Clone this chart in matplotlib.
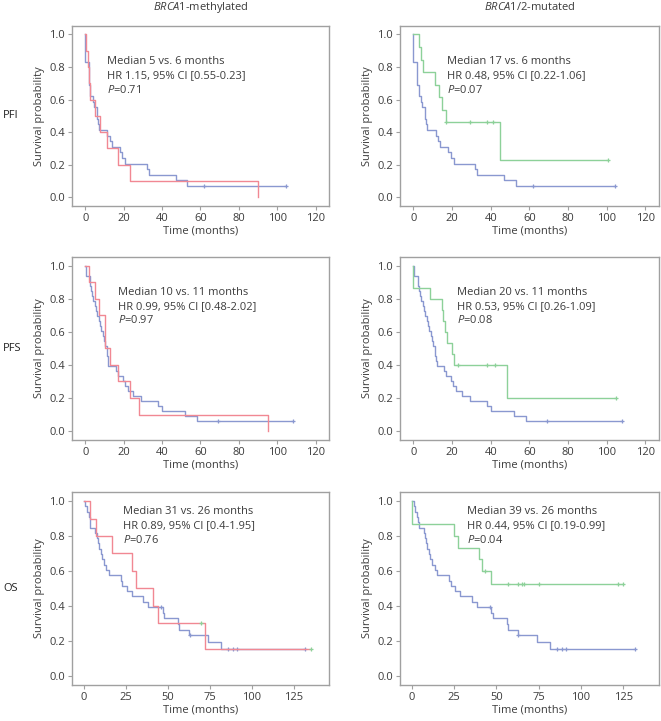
import matplotlib
matplotlib.use('Agg')
import matplotlib.pyplot as plt
import numpy as np

# PFI
pfi_blue_t = [0, 0, 1.7, 2.6, 3.8, 4.6, 6, 6.5, 7.2, 11.5, 12.8, 13.8, 18, 19.3, 20.7, 32, 33, 47, 53, 104.5]
pfi_blue_s = [1.0, 0.828, 0.69, 0.621, 0.586, 0.552, 0.483, 0.448, 0.414, 0.379, 0.345, 0.310, 0.276, 0.241, 0.207, 0.172, 0.138, 0.103, 0.069, 0.069]
pfi_blue_c = [62, 104.5]
pfi_red_t = [0, 0.5, 1.3, 1.8, 2.2, 5, 7.5, 11, 17, 23, 90]
pfi_red_s = [1.0, 0.9, 0.8, 0.7, 0.6, 0.5, 0.4, 0.3, 0.2, 0.1, 0.0]
pfi_red_c = []
pfi_green_t = [0, 3, 4, 5, 11, 13, 15, 17, 44.5, 100.5]
pfi_green_s = [1.0, 0.923, 0.846, 0.769, 0.692, 0.615, 0.538, 0.462, 0.231, 0.231]
pfi_green_c = [17, 29, 38, 41, 100.5]

# PFS
pfs_blue_t = [0, 0.3, 2.4, 3.0, 3.5, 4.0, 5.0, 5.5, 6.0, 7.0, 7.5, 8.0, 9.0, 9.5, 10.0, 11.0, 11.3, 11.6, 12.0,
              16, 17, 19.5, 20.5, 22, 25, 29, 38, 40, 52, 58, 108]
pfs_blue_s = [1.0, 0.939, 0.879, 0.848, 0.818, 0.788, 0.758, 0.727, 0.697, 0.667, 0.636, 0.606, 0.576, 0.545, 0.515, 0.485, 0.455, 0.424, 0.394,
              0.364, 0.333, 0.303, 0.273, 0.242, 0.212, 0.182, 0.152, 0.121, 0.091, 0.061, 0.061]
pfs_blue_c = [69, 108]
pfs_red_t = [0, 2, 5.2, 7.3, 10.4, 13, 17, 23, 28, 95]
pfs_red_s = [1.0, 0.9, 0.8, 0.7, 0.5, 0.4, 0.3, 0.2, 0.1, 0.0]
pfs_red_c = []
pfs_green_t = [0, 0, 8.4, 15, 15.5, 16.5, 17.2, 20, 21, 48.5, 105]
pfs_green_s = [1.0, 0.867, 0.8, 0.733, 0.667, 0.6, 0.533, 0.467, 0.4, 0.2, 0.2]
pfs_green_c = [23, 38, 42, 105]

# OS
os_blue_t = [0, 1, 2, 3, 3.5, 4, 7, 8, 8.5, 9, 10, 11, 12, 13.5, 15, 22, 23, 25.5, 28.5, 35.5, 38.5,
             47, 48, 56, 57, 62.5, 73.7, 81.8, 132]
os_blue_s = [1.0, 0.970, 0.939, 0.909, 0.879, 0.848, 0.818, 0.788, 0.758, 0.727, 0.697, 0.667, 0.636, 0.606, 0.576,
             0.545, 0.515, 0.485, 0.455, 0.424, 0.394, 0.361, 0.328, 0.295, 0.262, 0.230, 0.191, 0.153, 0.153]
os_blue_c = [46, 63, 86, 89, 91, 132]
os_red_t = [0, 4, 7.4, 16.8, 29, 31, 41, 44.5, 72, 135]
os_red_s = [1.0, 0.9, 0.8, 0.7, 0.6, 0.5, 0.4, 0.3, 0.15, 0.15]
os_red_c = [70, 135]
os_green_t = [0, 0, 25, 27.5, 39.6, 41.6, 47, 125]
os_green_s = [1.0, 0.867, 0.8, 0.733, 0.667, 0.6, 0.525, 0.525]
os_green_c = [43, 57, 63, 65, 66, 75, 122, 125]

row_labels = ['PFI', 'PFS', 'OS']
col_titles = [r'$\it{BRCA1}$-methylated', r'$\it{BRCA1/2}$-mutated']

stats = [
    [['Median 5 vs. 6 months', 'HR 1.15, 95% CI [0.55-0.23]', r'$\it{P}$=0.71'],
     ['Median 17 vs. 6 months', 'HR 0.48, 95% CI [0.22-1.06]', r'$\it{P}$=0.07']],
    [['Median 10 vs. 11 months', 'HR 0.99, 95% CI [0.48-2.02]', r'$\it{P}$=0.97'],
     ['Median 20 vs. 11 months', 'HR 0.53, 95% CI [0.26-1.09]', r'$\it{P}$=0.08']],
    [['Median 31 vs. 26 months', 'HR 0.89, 95% CI [0.4-1.95]', r'$\it{P}$=0.76'],
     ['Median 39 vs. 26 months', 'HR 0.44, 95% CI [0.19-0.99]', r'$\it{P}$=0.04']],
]

BLUE = '#8a98d0'
RED = '#f18893'
GREEN = '#8dd199'
GRAY = '#a0a0a0'
TXT = '#3c3c3c'

plt.rcParams['font.family'] = ['Open Sans', 'DejaVu Sans']
plt.rcParams['mathtext.fontset'] = 'custom'
plt.rcParams['mathtext.rm'] = 'Open Sans'
plt.rcParams['mathtext.it'] = 'Open Sans:italic'
FS = 8.0

fig = plt.figure(figsize=(6.61, 7.21), dpi=100)

col_x = [(0.1089, 0.3888), (0.6051, 0.3918)]
row_y = [(0.7143, 0.2501), (0.3897, 0.2542), (0.0499, 0.2681)]
text_pos = [[(0.136, 0.80), (0.18, 0.80)],
            [(0.178, 0.807), (0.219, 0.807)],
            [(0.197, 0.896), (0.258, 0.896)]]

curves = [
    [(pfi_blue_t, pfi_blue_s, pfi_blue_c), (pfi_red_t, pfi_red_s, pfi_red_c), (pfi_green_t, pfi_green_s, pfi_green_c)],
    [(pfs_blue_t, pfs_blue_s, pfs_blue_c), (pfs_red_t, pfs_red_s, pfs_red_c), (pfs_green_t, pfs_green_s, pfs_green_c)],
    [(os_blue_t, os_blue_s, os_blue_c), (os_red_t, os_red_s, os_red_c), (os_green_t, os_green_s, os_green_c)],
]


def km(ax, t, s, c, color, mcolor=None):
    t = np.array(t)
    s = np.array(s)
    ax.step(t, s, where='post', color=color, lw=1.0)
    if len(c):
        idx = np.searchsorted(t, c, side='right') - 1
        ax.plot(c, s[idx], ls='none', marker='+', ms=3.5, mew=0.9, color=mcolor or color)


for r in range(3):
    blue, red, green = curves[r]
    for ci in range(2):
        ax = fig.add_axes([col_x[ci][0], row_y[r][0], col_x[ci][1], row_y[r][1]])
        km(ax, *blue, BLUE)
        if ci == 0:
            km(ax, *red, RED, GREEN)
        else:
            km(ax, *green, GREEN)
        if r < 2:
            ax.set_xlim(-7, 127)
            ax.set_xticks([0, 20, 40, 60, 80, 100, 120])
        else:
            ax.set_xlim(-7, 146)
            ax.set_xticks([0, 25, 50, 75, 100, 125])
        ax.set_ylim(-0.054, 1.054)
        ax.set_yticks([0.0, 0.2, 0.4, 0.6, 0.8, 1.0])
        ax.set_yticklabels(['0.0', '0.2', '0.4', '0.6', '0.8', '1.0'])
        for sp in ax.spines.values():
            sp.set_color(GRAY)
            sp.set_linewidth(1.0)
        ax.tick_params(colors=GRAY, labelcolor=TXT, labelsize=FS, length=3, width=0.8, pad=2)
        ax.set_xlabel('Time (months)', fontsize=FS, color=TXT, labelpad=1)
        ax.set_ylabel('Survival probability', fontsize=FS, color=TXT, labelpad=3)
        fx, fy = text_pos[r][ci]
        for i, line in enumerate(stats[r][ci]):
            ax.annotate(line, xy=(fx, fy), xycoords='axes fraction', xytext=(0, -10.1 * i),
                        textcoords='offset points', va='center', ha='left', fontsize=FS, color=TXT)
    yc = row_y[r][0] + row_y[r][1] / 2
    fig.text(0.005, yc, row_labels[r], fontsize=FS, color='#222222', va='center', ha='left')

for ci in range(2):
    fig.text(col_x[ci][0] + col_x[ci][1] / 2, 0.990, col_titles[ci], fontsize=FS, color=TXT,
             ha='center', va='center')

plt.savefig('out.png', dpi=100)
